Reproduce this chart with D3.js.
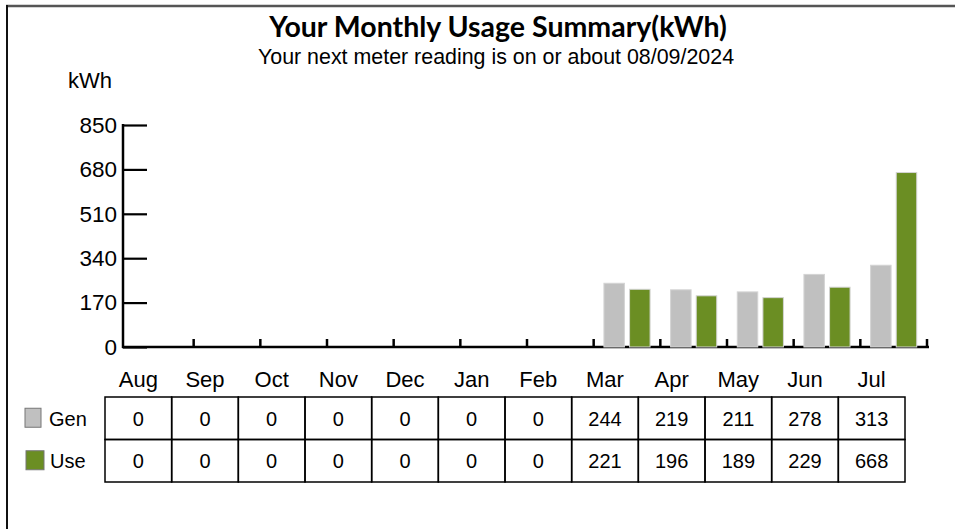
<!DOCTYPE html>
<html>
<head>
<meta charset="utf-8">
<script src="https://cdn.jsdelivr.net/npm/d3@7"></script>
<style>
  body { margin: 0; background: #fff; }
  text { font-family: "Liberation Sans", Arial, sans-serif; fill: #000; }
</style>
</head>
<body>
<div id="chart"></div>
<script>
// chart size
const width = 955;
const height = 529;

const months = ["Aug", "Sep", "Oct", "Nov", "Dec", "Jan", "Feb", "Mar", "Apr", "May", "Jun", "Jul"];
const genValues = [0, 0, 0, 0, 0, 0, 0, 244, 219, 211, 278, 313];
const useValues = [0, 0, 0, 0, 0, 0, 0, 221, 196, 189, 229, 668];
const yTicks = [0, 170, 340, 510, 680, 850];
const seriesNames = ["Gen", "Use"];
const seriesColors = ["#c0c0c0", "#6b8e23"];

const svg = d3.select("#chart")
  .append("svg")
  .attr("width", width)
  .attr("height", height);

// outer frame (top + left only)
svg.append("line")
  .attr("x1", 6).attr("x2", width).attr("y1", 6).attr("y2", 6)
  .attr("stroke", "#555").attr("stroke-width", 2.5);
svg.append("line")
  .attr("x1", 7).attr("x2", 7).attr("y1", 5).attr("y2", height)
  .attr("stroke", "#111").attr("stroke-width", 2);

// titles
svg.append("text")
  .attr("x", 498).attr("y", 37)
  .attr("text-anchor", "middle")
  .style("font-family", "Lato, 'Open Sans', sans-serif")
  .style("font-weight", "bold")
  .style("font-size", "28.5px")
  .text("Your Monthly Usage Summary(kWh)");

svg.append("text")
  .attr("x", 496).attr("y", 64)
  .attr("text-anchor", "middle")
  .style("font-size", "21.4px")
  .text("Your next meter reading is on or about 08/09/2024");

svg.append("text")
  .attr("x", 68).attr("y", 88)
  .style("font-size", "22px")
  .text("kWh");

// scales
const y = d3.scaleLinear()
  .domain([0, 850])
  .range([347, 125]);

const x = d3.scaleBand()
  .domain(d3.range(months.length))
  .range([127, 927]);

const xSub = d3.scaleBand()
  .domain(seriesNames)
  .range([0, x.bandwidth()])
  .paddingInner(0.2)
  .paddingOuter(0.4);

// y axis, ticks pointing into the plot
const yAxis = svg.append("g")
  .attr("transform", "translate(123,0)")
  .call(d3.axisRight(y).tickValues(yTicks).tickSize(24).tickFormat(d => d));
yAxis.select(".domain").remove();
yAxis.selectAll("line").attr("stroke", "#000").attr("stroke-width", 2.2);
yAxis.selectAll("text")
  .attr("x", -6)
  .attr("text-anchor", "end")
  .style("font-family", "'Liberation Sans', Arial, sans-serif")
  .style("font-size", "22.5px");
svg.append("line")
  .attr("x1", 123).attr("x2", 123).attr("y1", y(850) - 1).attr("y2", y(0) + 1)
  .attr("stroke", "#000").attr("stroke-width", 2.5);

// x axis line with small upward separators
svg.append("line")
  .attr("x1", 122).attr("x2", 929).attr("y1", y(0)).attr("y2", y(0))
  .attr("stroke", "#000").attr("stroke-width", 2.5);
svg.selectAll(".sep")
  .data(d3.range(1, months.length + 1))
  .enter()
  .append("line")
    .attr("class", "sep")
    .attr("x1", i => i < months.length ? x(i) : x(i - 1) + x.bandwidth())
    .attr("x2", i => i < months.length ? x(i) : x(i - 1) + x.bandwidth())
    .attr("y1", y(0) - 8)
    .attr("y2", y(0))
    .attr("stroke", "#000")
    .attr("stroke-width", 2.5);

// bars
const rows = months.map((m, i) => ({ month: m, i: i, Gen: genValues[i], Use: useValues[i] }));

const groups = svg.selectAll(".month")
  .data(rows)
  .enter()
  .append("g")
    .attr("class", "month")
    .attr("transform", d => `translate(${x(d.i)},0)`);

groups.selectAll("rect")
  .data(d => seriesNames.map((s, k) => ({ key: s, value: d[s], color: seriesColors[k] })))
  .enter()
  .append("rect")
    .attr("x", d => xSub(d.key))
    .attr("y", d => y(d.value))
    .attr("width", xSub.bandwidth())
    .attr("height", d => y(0) - y(d.value))
    .attr("fill", d => d.color)
    .attr("stroke", "#d4d4d4")
    .attr("stroke-width", 1)
    .style("display", d => d.value > 0 ? null : "none");

// data table underneath
const col = d3.scaleBand()
  .domain(d3.range(months.length))
  .range([105, 905]);
const rowY = d3.scaleBand()
  .domain(seriesNames)
  .range([397, 482]);

svg.selectAll(".mlabel")
  .data(months)
  .enter()
  .append("text")
    .attr("class", "mlabel")
    .attr("x", (d, i) => col(i) + col.bandwidth() / 2)
    .attr("y", 387)
    .attr("text-anchor", "middle")
    .style("font-size", "22px")
    .text(d => d);

const tableValues = { Gen: genValues, Use: useValues };

seriesNames.forEach(s => {
  svg.selectAll(".cell-" + s)
    .data(tableValues[s])
    .enter()
    .append("rect")
      .attr("class", "cell-" + s)
      .attr("x", (d, i) => col(i))
      .attr("y", rowY(s))
      .attr("width", col.bandwidth())
      .attr("height", rowY.bandwidth())
      .attr("fill", "none")
      .attr("stroke", "#000")
      .attr("stroke-width", 1.5);

  svg.selectAll(".val-" + s)
    .data(tableValues[s])
    .enter()
    .append("text")
      .attr("class", "val-" + s)
      .attr("x", (d, i) => col(i) + col.bandwidth() / 2)
      .attr("y", rowY(s) + rowY.bandwidth() / 2 + 7.5)
      .attr("text-anchor", "middle")
      .style("font-size", "20px")
      .text(d => d);
});

// legend next to the table rows
const legend = svg.selectAll(".legend")
  .data(seriesNames)
  .enter()
  .append("g")
    .attr("class", "legend");

legend.append("rect")
  .attr("x", (d, k) => k === 0 ? 25 : 26)
  .attr("y", d => rowY(d) + rowY.bandwidth() / 2 - 10)
  .attr("width", (d, k) => k === 0 ? 16 : 18)
  .attr("height", 19)
  .attr("fill", (d, k) => seriesColors[k])
  .attr("stroke", "#777")
  .attr("stroke-width", 1);

legend.append("text")
  .attr("x", (d, k) => k === 0 ? 49 : 50)
  .attr("y", d => rowY(d) + rowY.bandwidth() / 2 + 7.5)
  .style("font-size", "20px")
  .text(d => d);
</script>
</body>
</html>
